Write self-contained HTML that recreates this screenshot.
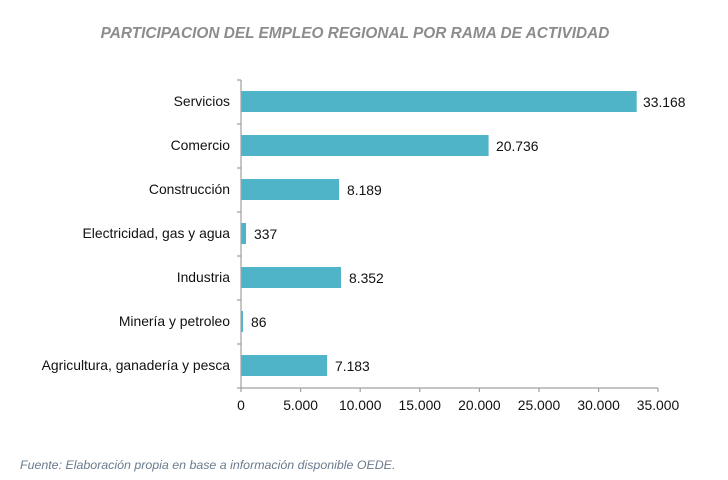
<!DOCTYPE html>
<html><head><style>
body{margin:0;background:#fff;}
svg{display:block;font-family:"Liberation Sans",sans-serif;}
</style></head><body>
<svg width="728" height="480" viewBox="0 0 728 480">
<text x="355" y="38" text-anchor="middle" font-size="15.4" font-weight="bold" font-style="italic" fill="#8c8c8c">PARTICIPACION DEL EMPLEO REGIONAL POR RAMA DE ACTIVIDAD</text>
<g fill="#4fb4c8">
<rect x="241.5" y="91" width="395.2" height="21"/>
<rect x="241.5" y="135" width="247.1" height="21"/>
<rect x="241.5" y="179" width="97.6" height="21"/>
<rect x="241.5" y="223" width="4.5" height="21"/>
<rect x="241.5" y="267" width="99.5" height="21"/>
<rect x="241.5" y="311" width="1.5" height="21"/>
<rect x="241.5" y="355" width="85.6" height="21"/>
</g>
<g stroke="#a0a0a0" stroke-width="1.2" fill="none">
<path d="M241 80V388H658"/>
<path d="M237 80H241M237 124H241M237 168H241M237 212H241M237 256H241M237 300H241M237 344H241M237 388H241"/>
<path d="M241 388V392M300.6 388V392M360.2 388V392M419.8 388V392M479.4 388V392M539 388V392M598.6 388V392M658 388V392"/>
</g>
<g font-size="13.9" fill="#111" text-anchor="end">
<text x="230" y="106">Servicios</text>
<text x="230" y="150">Comercio</text>
<text x="230" y="194">Construcción</text>
<text x="230" y="238">Electricidad, gas y agua</text>
<text x="230" y="282">Industria</text>
<text x="230" y="326">Minería y petroleo</text>
<text x="230" y="370">Agricultura, ganadería y pesca</text>
</g>
<g font-size="13.9" fill="#111">
<text x="643" y="107">33.168</text>
<text x="496" y="151">20.736</text>
<text x="347" y="195">8.189</text>
<text x="254" y="239">337</text>
<text x="349" y="283">8.352</text>
<text x="251" y="327">86</text>
<text x="335" y="371">7.183</text>
</g>
<g font-size="13.9" fill="#111" text-anchor="middle">
<text x="241" y="410">0</text>
<text x="300.6" y="410">5.000</text>
<text x="360.2" y="410">10.000</text>
<text x="419.8" y="410">15.000</text>
<text x="479.4" y="410">20.000</text>
<text x="539" y="410">25.000</text>
<text x="598.6" y="410">30.000</text>
<text x="658" y="410">35.000</text>
</g>
<text x="20" y="469" font-size="12.4" font-style="italic" fill="#6a7a8c">Fuente: Elaboración propia en base a información disponible OEDE.</text>
</svg>
</body></html>
